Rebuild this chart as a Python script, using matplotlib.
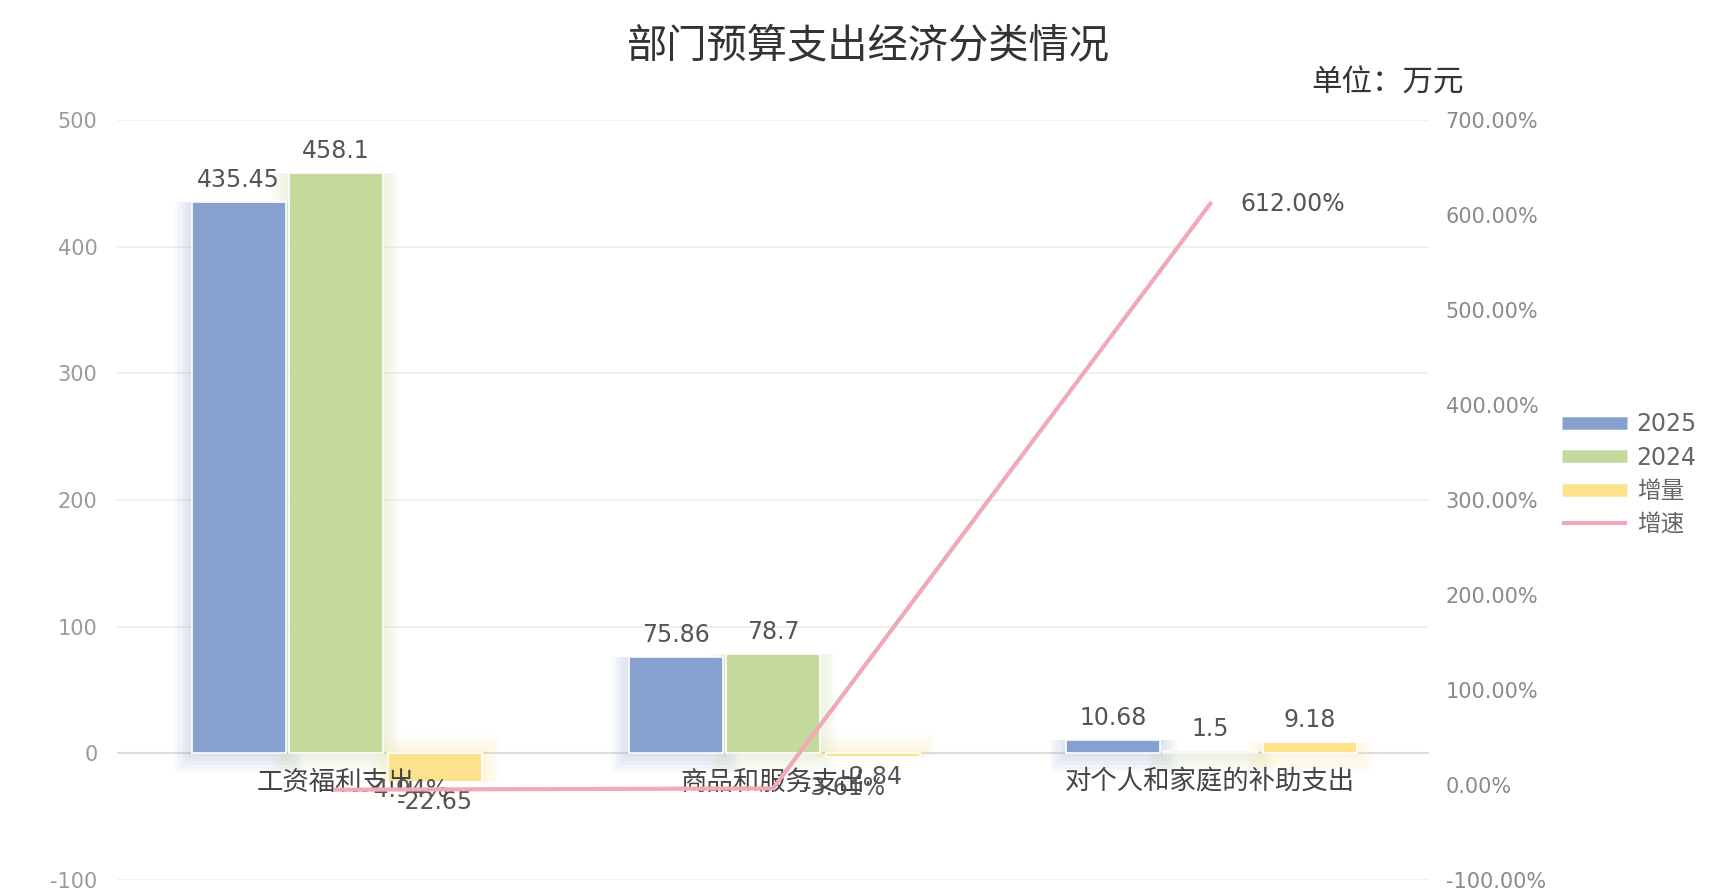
import matplotlib
matplotlib.use("Agg")
import matplotlib.pyplot as plt
from matplotlib.lines import Line2D
import numpy as np

plt.rcParams["font.family"] = ["DejaVu Sans", "Noto Sans CJK SC"]
plt.rcParams["axes.unicode_minus"] = False

# data
categories = ["工资福利支出", "商品和服务支出", "对个人和家庭的补助支出"]
y2025 = [435.45, 75.86, 10.68]
y2024 = [458.1, 78.7, 1.5]
increase = [-22.65, -2.84, 9.18]
growth = [-4.94, -3.61, 612.00]

left_ticks = [-100, 0, 100, 200, 300, 400, 500]
right_ticks = [-100, 0, 100, 200, 300, 400, 500, 600, 700]

c_blue = "#87a1cf"
c_green = "#c4d99c"
c_yellow = "#fde28e"
c_pink = "#f1a9b5"

W, H = 1730, 893
fig = plt.figure(figsize=(W / 100, H / 100), dpi=100)
ax = fig.add_axes([117 / W, 13 / H, (1429 - 117) / W, (880 - 120) / H])
ax.set_xlim(-0.5, 2.5)
ax.set_ylim(-100, 500)
ax.set_yticks(left_ticks)
ax.set_xticks([])
for s in ax.spines.values():
    s.set_visible(False)
ax.tick_params(axis="y", length=0, pad=14, labelsize=15, labelcolor="#9a9a9a")
ax.grid(axis="y", color="#eeeeee", linewidth=1.2)
ax.set_axisbelow(True)
ax.axhline(0, color="#dddddd", linewidth=1.5, zorder=1)

x = np.arange(len(categories))
bw = 0.215
offs = [-0.222, 0.0, 0.228]
series = [(y2025, c_blue), (y2024, c_green), (increase, c_yellow)]

# bars with a soft glow behind them
for (vals, col), off in zip(series, offs):
    v = np.array(vals)
    sign = np.sign(v)
    for k in range(5, 0, -1):
        px = 0.0075 * k
        py = 3.0 * k
        ax.bar(x + off, v + sign * py, bottom=-sign * py, width=bw + 2 * px,
               color=col, alpha=0.06, linewidth=0, zorder=2)
    ax.bar(x + off, v, width=bw, color=col, edgecolor="white", linewidth=1.2, zorder=3)
    for xi, vi in zip(x + off, v):
        ax.annotate(f"{vi:g}", (xi, vi), xytext=(0, 10 if vi >= 0 else -8),
                    textcoords="offset pixels", ha="center",
                    va="bottom" if vi >= 0 else "top",
                    fontsize=17, color="#555555", zorder=5)

# category names sit just under the zero line
for xi, name in zip(x, categories):
    ax.annotate(name, (xi, 0), xytext=(0, -29), textcoords="offset pixels",
                ha="center", va="center", fontsize=19, color="#444444", zorder=5)

ax2 = ax.twinx()
ax2.set_ylim(-100, 700)
ax2.set_yticks(right_ticks)
ax2.set_yticklabels([f"{t:.2f}%" for t in right_ticks])
for s in ax2.spines.values():
    s.set_visible(False)
ax2.tick_params(axis="y", length=0, pad=12, labelsize=15, labelcolor="#8a8a8a")
ax2.plot(x, growth, color=c_pink, linewidth=3, zorder=4)
for xi, g in zip(x, growth):
    ax2.annotate(f"{g:.2f}%", (xi, g), xytext=(30, 0), textcoords="offset pixels",
                 ha="left", va="center", fontsize=17, color="#555555")

fig.text(0.502, 1 - 46 / H, "部门预算支出经济分类情况", ha="center", va="center",
         fontsize=29, color="#333333")
fig.text(1311 / W, 1 - 83 / H, "单位：万元", ha="left", va="center",
         fontsize=22, color="#333333")

handles = [
    Line2D([], [], color=c_blue, linewidth=9, solid_capstyle="butt"),
    Line2D([], [], color=c_green, linewidth=9, solid_capstyle="butt"),
    Line2D([], [], color=c_yellow, linewidth=9, solid_capstyle="butt"),
    Line2D([], [], color=c_pink, linewidth=3, solid_capstyle="butt"),
]
fig.legend(handles, ["2025", "2024", "增量", "增速"], loc="upper left",
           bbox_to_anchor=(1541 / W, 1 - 391 / H), frameon=False, fontsize=17,
           labelcolor="#666666", handlelength=2.75, handletextpad=0.4,
           labelspacing=0.4)

fig.savefig("out.png", dpi=100, facecolor="white")
